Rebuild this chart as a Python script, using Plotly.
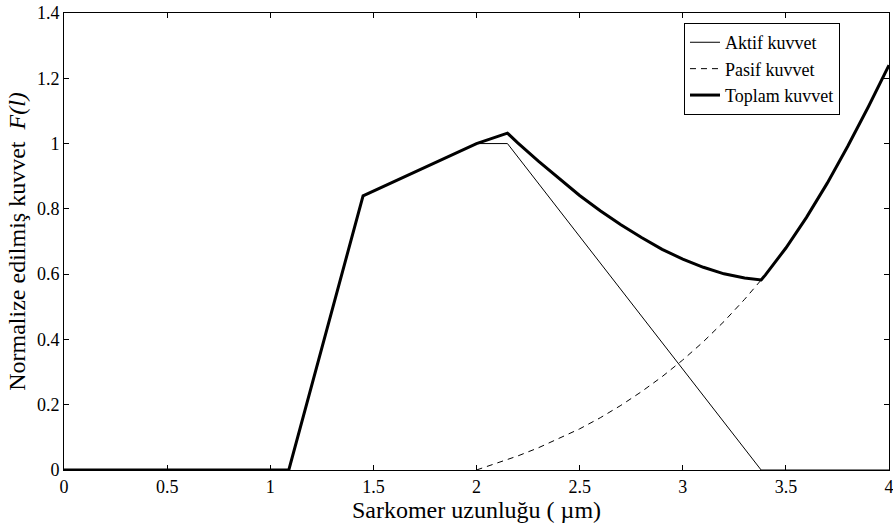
import plotly.graph_objects as go

# Active (contractile) force: piecewise-linear length-tension relation
active_x = [0.0, 1.09, 1.45, 2.0, 2.15, 3.38, 4.0]
active_y = [0.0, 0.0, 0.84, 1.0, 1.0, 0.0, 0.0]

# Passive (elastic) force, starting at 2.0 um
passive_x = [2.0, 2.1, 2.2, 2.3, 2.4, 2.5, 2.6, 2.7, 2.8, 2.9, 3.0, 3.1,
             3.2, 3.3, 3.38, 3.4, 3.5, 3.6, 3.7, 3.8, 3.9, 4.0]
passive_y = [0.0, 0.021, 0.043, 0.068, 0.096, 0.126, 0.160, 0.198, 0.240,
             0.286, 0.337, 0.393, 0.455, 0.523, 0.582, 0.597, 0.680, 0.774,
             0.878, 0.992, 1.113, 1.240]

# Total force = active + passive
total_x = [0.0, 1.09, 1.45, 2.0, 2.15, 2.2, 2.3, 2.4, 2.5, 2.6, 2.7, 2.8,
           2.9, 3.0, 3.1, 3.2, 3.3, 3.38, 3.4, 3.5, 3.6, 3.7, 3.8, 3.9, 4.0]
total_y = [0.0, 0.0, 0.84, 1.0, 1.032, 1.002, 0.946, 0.893, 0.841, 0.794,
           0.751, 0.712, 0.676, 0.646, 0.621, 0.601, 0.588, 0.582, 0.597,
           0.680, 0.774, 0.878, 0.992, 1.113, 1.240]

x_ticks = [0, 0.5, 1, 1.5, 2, 2.5, 3, 3.5, 4]
y_ticks = [0, 0.2, 0.4, 0.6, 0.8, 1, 1.2, 1.4]

FONT = "Liberation Serif, Times New Roman, serif"

fig = go.Figure()
fig.add_trace(go.Scatter(x=active_x, y=active_y, mode="lines", name="Aktif kuvvet",
                         line=dict(color="black", width=1)))
fig.add_trace(go.Scatter(x=passive_x, y=passive_y, mode="lines", name="Pasif kuvvet",
                         line=dict(color="black", width=1, dash="6px,5px")))
fig.add_trace(go.Scatter(x=total_x, y=total_y, mode="lines", name="Toplam kuvvet",
                         line=dict(color="black", width=3)))

axis_common = dict(
    showline=True, linecolor="black", linewidth=1, mirror="allticks",
    ticks="inside", ticklen=5, tickwidth=1, tickcolor="black",
    showgrid=False, zeroline=False, ticklabeloverflow="allow", automargin=False,
    tickfont=dict(family=FONT, size=18, color="black"),
)

fig.update_layout(
    width=893, height=523,
    margin=dict(l=64, r=4, t=13, b=53),
    paper_bgcolor="white", plot_bgcolor="white",
    font=dict(family=FONT, color="black"),
    xaxis=dict(range=[0, 4], tickvals=x_ticks,
               ticktext=[f"{v:g}" for v in x_ticks],
               title=dict(text="Sarkomer uzunluğu ( µm)", font=dict(family=FONT, size=24),
                          standoff=0),
               **axis_common),
    yaxis=dict(range=[0, 1.4], tickvals=y_ticks,
               ticktext=[f"{v:g}" for v in y_ticks],
               title=dict(text="Normalize edilmiş kuvvet  <i>F(l)</i>",
                          font=dict(family=FONT, size=24), standoff=4),
               **axis_common),
    legend=dict(x=0.7515, y=0.978, xanchor="left", yanchor="top",
                bgcolor="white", bordercolor="black", borderwidth=1,
                font=dict(family=FONT, size=18, color="black"),
                tracegroupgap=0, itemwidth=30),
    showlegend=True,
)

fig.write_html("out.html")
